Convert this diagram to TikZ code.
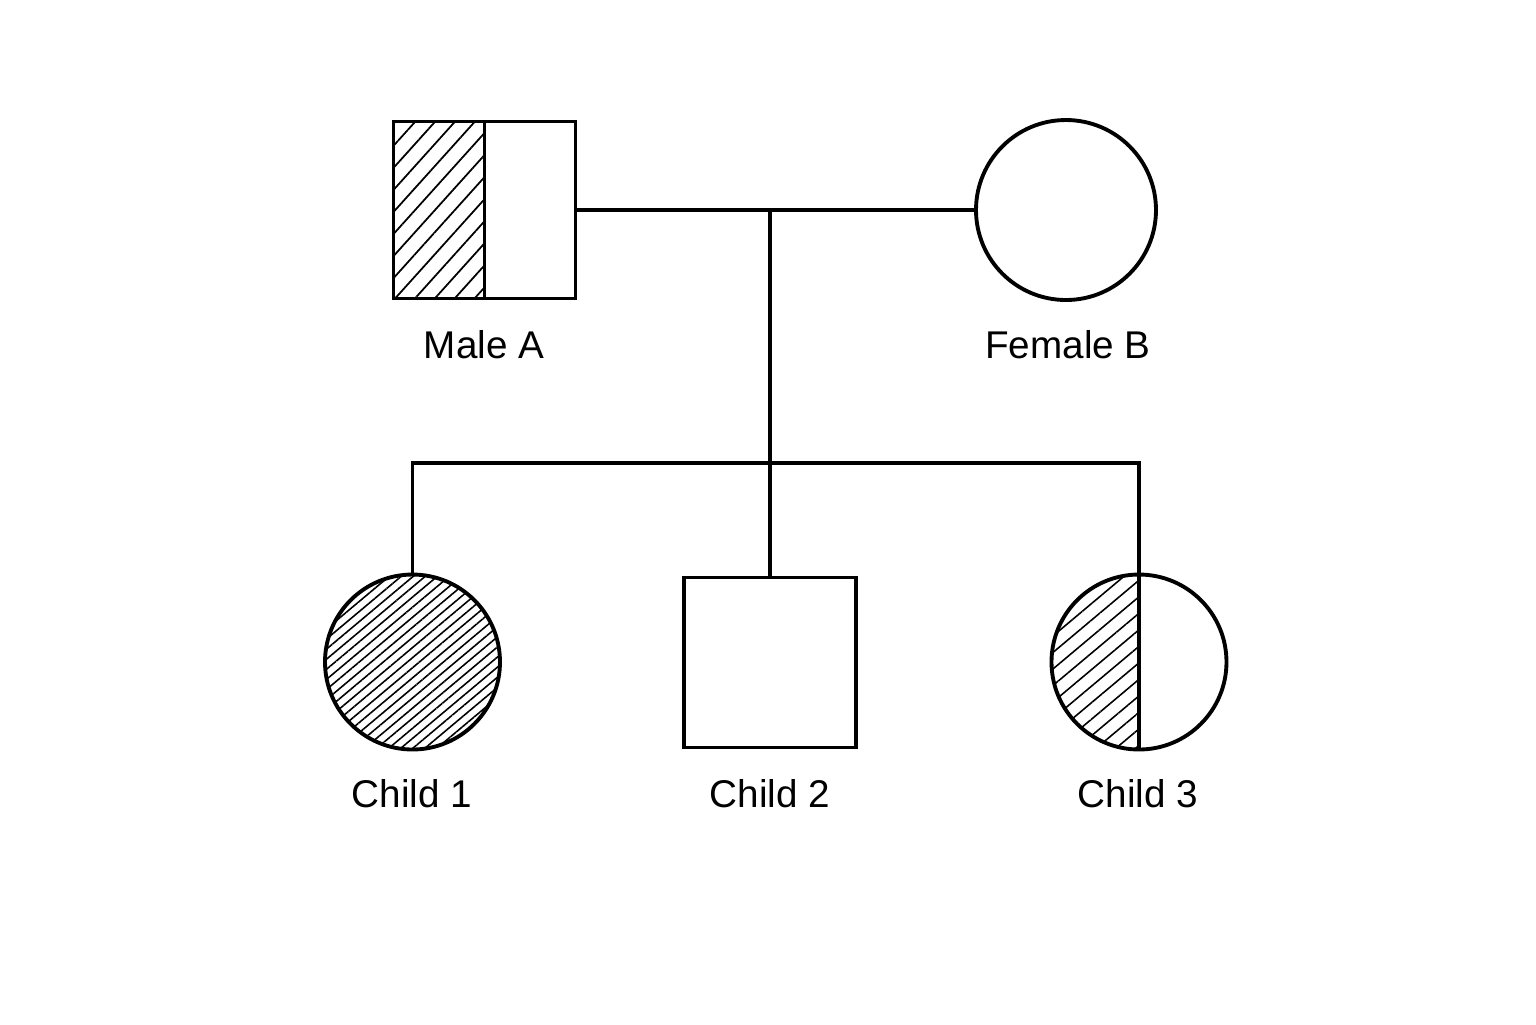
\documentclass[tikz,border=0pt]{standalone}
\usepackage{fontspec}
\setmainfont{Liberation Sans}
\usetikzlibrary{calc, patterns.meta}

\tikzset{
  male/.style={draw, rectangle, line width=1.1pt, inner sep=0pt, outer sep=0pt},
  female/.style={draw, circle, line width=1.1pt, inner sep=0pt, outer sep=0pt},
  link/.style={line width=1pt},
  hatchwide/.style={pattern={Lines[angle=48, distance=4.2pt, line width=0.5pt]}},
  hatchmid/.style={pattern={Lines[angle=40, distance=3.6pt, line width=0.45pt]}},
  hatchdense/.style={pattern={Lines[angle=40, distance=2.2pt, line width=0.45pt]}},
  lbl/.style={inner sep=0pt, font=\fontsize{11}{13}\selectfont}
}

\begin{document}
\begin{tikzpicture}[scale=0.1]
\useasboundingbox (0,0) rectangle (153.6,-102.4);
% parents
\node [male, minimum width=1.82cm, minimum height=1.77cm] (maleA) at (48.45,-21) {};
\node [female, minimum size=1.8cm] (femaleB) at (106.6,-21) {};
\fill [hatchwide] (maleA.south west) rectangle (maleA.north);
\draw [male] (maleA.north) -- (maleA.south);
% children
\node [female, minimum size=1.75cm, hatchdense] (child1) at (41.25,-66.2) {};
\node [male, minimum width=1.72cm, minimum height=1.7cm] (child2) at (77,-66.25) {};
\node [female, minimum size=1.75cm] (child3) at (113.9,-66.2) {};
\begin{scope}
\clip (child3.west |- child3.south) rectangle (child3.north);
\fill [hatchmid] (child3.center) circle (8.75);
\end{scope}
\draw [male] (child3.north) -- (child3.south);
% lines
\coordinate (mate) at (77,-21);
\coordinate (sib) at (77,-46.3);
\draw [link] (maleA.east) -- (femaleB.west);
\draw [link] (mate) -- (child2.north);
\draw [link] (child1.north) |- (sib) -| (child3.north);
% labels
\node [lbl] (maleAlbl) at (48.4,-34.5) {Male A};
\node [lbl] (femaleBlbl) at (106.8,-34.5) {Female B};
\node [lbl] (child1lbl) at (41.2,-79.4) {Child 1};
\node [lbl] (child2lbl) at (77,-79.4) {Child 2};
\node [lbl] (child3lbl) at (113.8,-79.4) {Child 3};
\end{tikzpicture}
\end{document}
